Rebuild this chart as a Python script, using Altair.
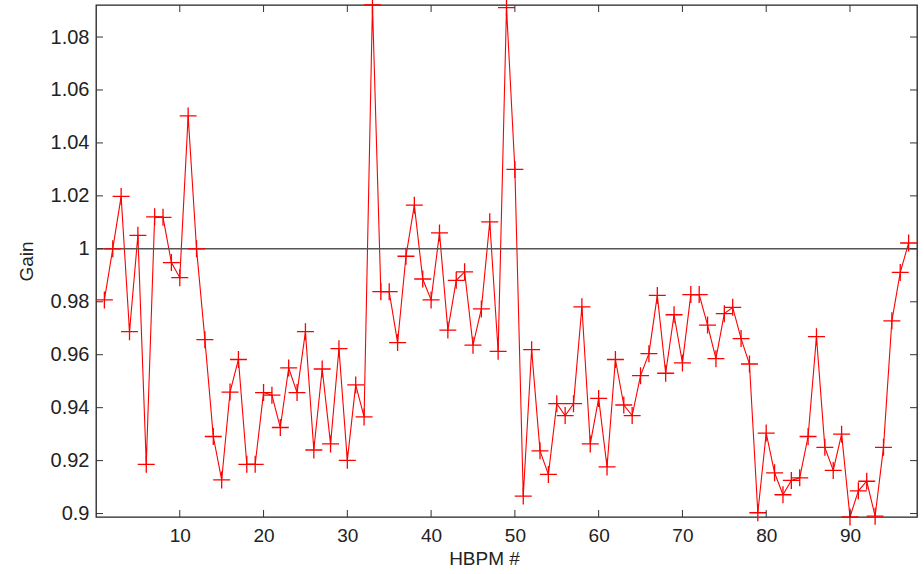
import altair as alt
import pandas as pd

# HBPM index and measured gain
hbpm = list(range(1, 98))
gain = [
    0.9807, 1.0000, 1.0198, 0.9687, 1.0051, 0.9186, 1.0121, 1.0119, 0.9948, 0.9891,
    1.0502, 1.0000, 0.9657, 0.9291, 0.9127, 0.9459, 0.9582, 0.9186, 0.9186, 0.9457,
    0.9447, 0.9325, 0.9550, 0.9457, 0.9687, 0.9240, 0.9546, 0.9263, 0.9623, 0.9201,
    0.9486, 0.9365, 1.0921, 0.9838, 0.9838, 0.9646, 0.9972, 1.0165, 0.9886, 0.9807,
    1.0060, 0.9693, 0.9881, 0.9913, 0.9636, 0.9773, 1.0102, 0.9613, 1.0911, 1.0300,
    0.9066, 0.9619, 0.9237, 0.9148, 0.9415, 0.9370, 0.9415, 0.9781, 0.9263, 0.9435,
    0.9176, 0.9582, 0.9410, 0.9370, 0.9521, 0.9604, 0.9824, 0.9530, 0.9751, 0.9569,
    0.9827, 0.9827, 0.9712, 0.9585, 0.9755, 0.9779, 0.9661, 0.9565, 0.9003, 0.9304,
    0.9154, 0.9071, 0.9125, 0.9135, 0.9291, 0.9668, 0.9250, 0.9163, 0.9300, 0.8987,
    0.9086, 0.9122, 0.8990, 0.9250, 0.9728, 0.9911, 1.0022,
]
reference_gain = [1.0]
x_ticks = [10, 20, 30, 40, 50, 60, 70, 80, 90]
y_ticks = [0.9, 0.92, 0.94, 0.96, 0.98, 1.0, 1.02, 1.04, 1.06, 1.08]
x_range = [0, 98]

df = pd.DataFrame({"n": hbpm, "gain": gain})
ref_df = pd.DataFrame({"gain": reference_gain})
xt_df = pd.DataFrame({"n": x_ticks})
yt_df = pd.DataFrame({"gain": y_ticks})

W, H = 821, 512
FONT = "Liberation Sans"

xscale = alt.Scale(domain=x_range, nice=False, zero=False)
yscale = alt.Scale(domain=[min(gain), max(gain)], nice=False, zero=False)

x_axis = alt.Axis(
    values=x_ticks, tickSize=0, domain=False, grid=False,
    labelFontSize=19, labelFont=FONT, labelColor="#222", labelPadding=9,
    title="HBPM #", titleFontSize=19, titleFont=FONT, titleFontWeight="normal",
    titleColor="#222", titleX=388, titleY=32, titleBaseline="top",
)
y_axis = alt.Axis(
    values=y_ticks, tickSize=0, domain=False, grid=False, format="~g",
    labelFontSize=20, labelFont=FONT, labelColor="#222", labelPadding=7,
    title="Gain", titleFontSize=19, titleFont=FONT, titleFontWeight="normal",
    titleColor="#222", titleX=-70, titleY=256, titleBaseline="middle",
    titleAngle=270,
)

X = alt.X("n:Q", scale=xscale, axis=x_axis)
Y = alt.Y("gain:Q", scale=yscale, axis=y_axis)

base = alt.Chart(df)

line = base.mark_line(color="#ff0000", strokeWidth=1.1).encode(x=X, y=Y)

points = base.mark_point(
    shape="M-1,0H1M0,-1V1", size=289, filled=False,
    color="#ff0000", strokeWidth=1.3, opacity=1,
).encode(x=X, y=Y)

ref_rule = alt.Chart(ref_df).mark_rule(color="#555555", strokeWidth=1.6).encode(y=Y)

TL = 7
tick_style = dict(color="#333333", strokeWidth=1)
xt_bottom = alt.Chart(xt_df).mark_rule(**tick_style).encode(
    x=X, y=alt.value(H), y2=alt.value(H - TL),
)
xt_top = alt.Chart(xt_df).mark_rule(**tick_style).encode(
    x=X, y=alt.value(0), y2=alt.value(TL),
)
yt_left = alt.Chart(yt_df).mark_rule(**tick_style).encode(
    y=Y, x=alt.value(0), x2=alt.value(TL),
)
yt_right = alt.Chart(yt_df).mark_rule(**tick_style).encode(
    y=Y, x=alt.value(W), x2=alt.value(W - TL),
)

chart = alt.layer(
    line, ref_rule, points, xt_bottom, xt_top, yt_left, yt_right
).properties(
    width=W, height=H,
    autosize=alt.AutoSizeParams(type="none"),
    padding={"left": 96, "top": 5, "right": 7, "bottom": 57},
    background="white",
).configure_view(
    stroke="#222222", strokeWidth=1.3,
)

chart.save("out.html", embed_options={"renderer": "svg", "actions": False})
